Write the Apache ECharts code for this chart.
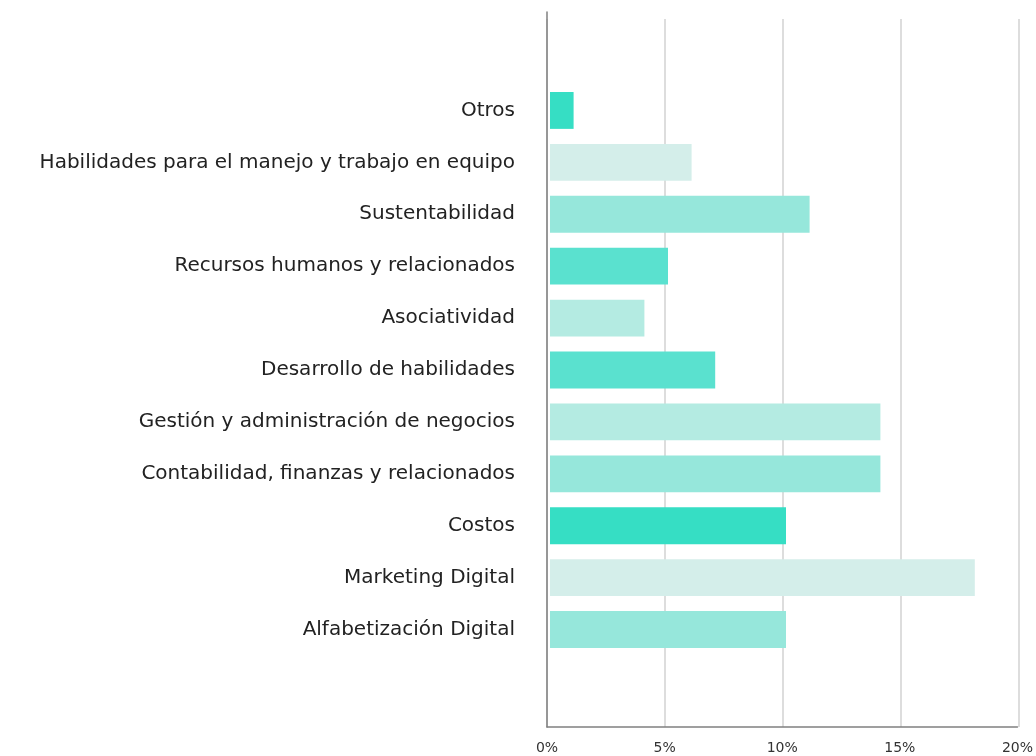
<!DOCTYPE html>
<html>
<head>
<meta charset="utf-8">
<script src="https://cdn.jsdelivr.net/npm/echarts@6/dist/echarts.min.js"></script>
<style>
  html, body { margin: 0; padding: 0; background: #fff; }
  #chart { width: 1036px; height: 756px; }
</style>
</head>
<body>
<div id="chart"></div>
<script>
// categories listed bottom to top (category axis order)
var categories = [
  'Alfabetización Digital',
  'Marketing Digital',
  'Costos',
  'Contabilidad, finanzas y relacionados',
  'Gestión y administración de negocios',
  'Desarrollo de habilidades',
  'Asociatividad',
  'Recursos humanos y relacionados',
  'Sustentabilidad',
  'Habilidades para el manejo y trabajo en equipo',
  'Otros'
];
var values = [10, 18, 10, 14, 14, 7, 4, 5, 11, 6, 1];
var tickValues = [0, 5, 10, 15, 20];

var barColors = ['#96e7db', '#d4eeea', '#36dec4', '#96e7db', '#b4ebe2', '#5ae1cf',
                 '#b4ebe2', '#5ae1cf', '#96e7db', '#d4eeea', '#36dec4'];

var myChart = echarts.init(document.getElementById('chart'));

var barData = [];
for (var i = 0; i < values.length; i++) {
  barData.push({ value: values[i], itemStyle: { color: barColors[i] } });
}

var option = {
  animation: false,
  textStyle: { fontFamily: 'DejaVu Sans' },
  grid: [
    // axis lines + tick labels
    { left: 547, right: 17, top: 12, bottom: 29 },
    // vertical grid lines
    { left: 547, right: 17, top: 19, bottom: 29 },
    // bars
    { left: 550, right: 14, top: 84.5, bottom: 100.5 }
  ],
  xAxis: [
    {
      gridIndex: 0, type: 'value',
      min: tickValues[0], max: tickValues[tickValues.length - 1], interval: 5,
      axisLine: { show: true, onZero: false, lineStyle: { color: '#808080', width: 1.5 } },
      axisTick: { show: false },
      splitLine: { show: false },
      axisLabel: { margin: 14, fontSize: 14, color: '#333', formatter: '{value}%' }
    },
    {
      gridIndex: 1, type: 'value',
      min: tickValues[0], max: tickValues[tickValues.length - 1], interval: 5,
      axisLine: { show: false }, axisTick: { show: false }, axisLabel: { show: false },
      splitLine: { show: true, lineStyle: { color: '#d2d2d2', width: 1.5 } }
    },
    {
      gridIndex: 2, type: 'value', show: false,
      min: tickValues[0], max: tickValues[tickValues.length - 1]
    }
  ],
  yAxis: [
    {
      gridIndex: 0, type: 'value', min: 0, max: 1,
      axisLine: { show: true, onZero: false, lineStyle: { color: '#808080', width: 1.5 } },
      axisTick: { show: false }, axisLabel: { show: false }, splitLine: { show: false }
    },
    {
      gridIndex: 1, type: 'value', min: 0, max: 1, show: false
    },
    {
      gridIndex: 2, type: 'category', data: categories,
      axisLine: { show: false }, axisTick: { show: false },
      splitLine: { show: false },
      axisLabel: { margin: 35, fontSize: 20, color: '#222' }
    }
  ],
  series: [
    {
      type: 'bar',
      xAxisIndex: 2,
      yAxisIndex: 2,
      data: barData,
      barCategoryGap: '29%'
    }
  ]
};

myChart.setOption(option);
</script>
</body>
</html>
